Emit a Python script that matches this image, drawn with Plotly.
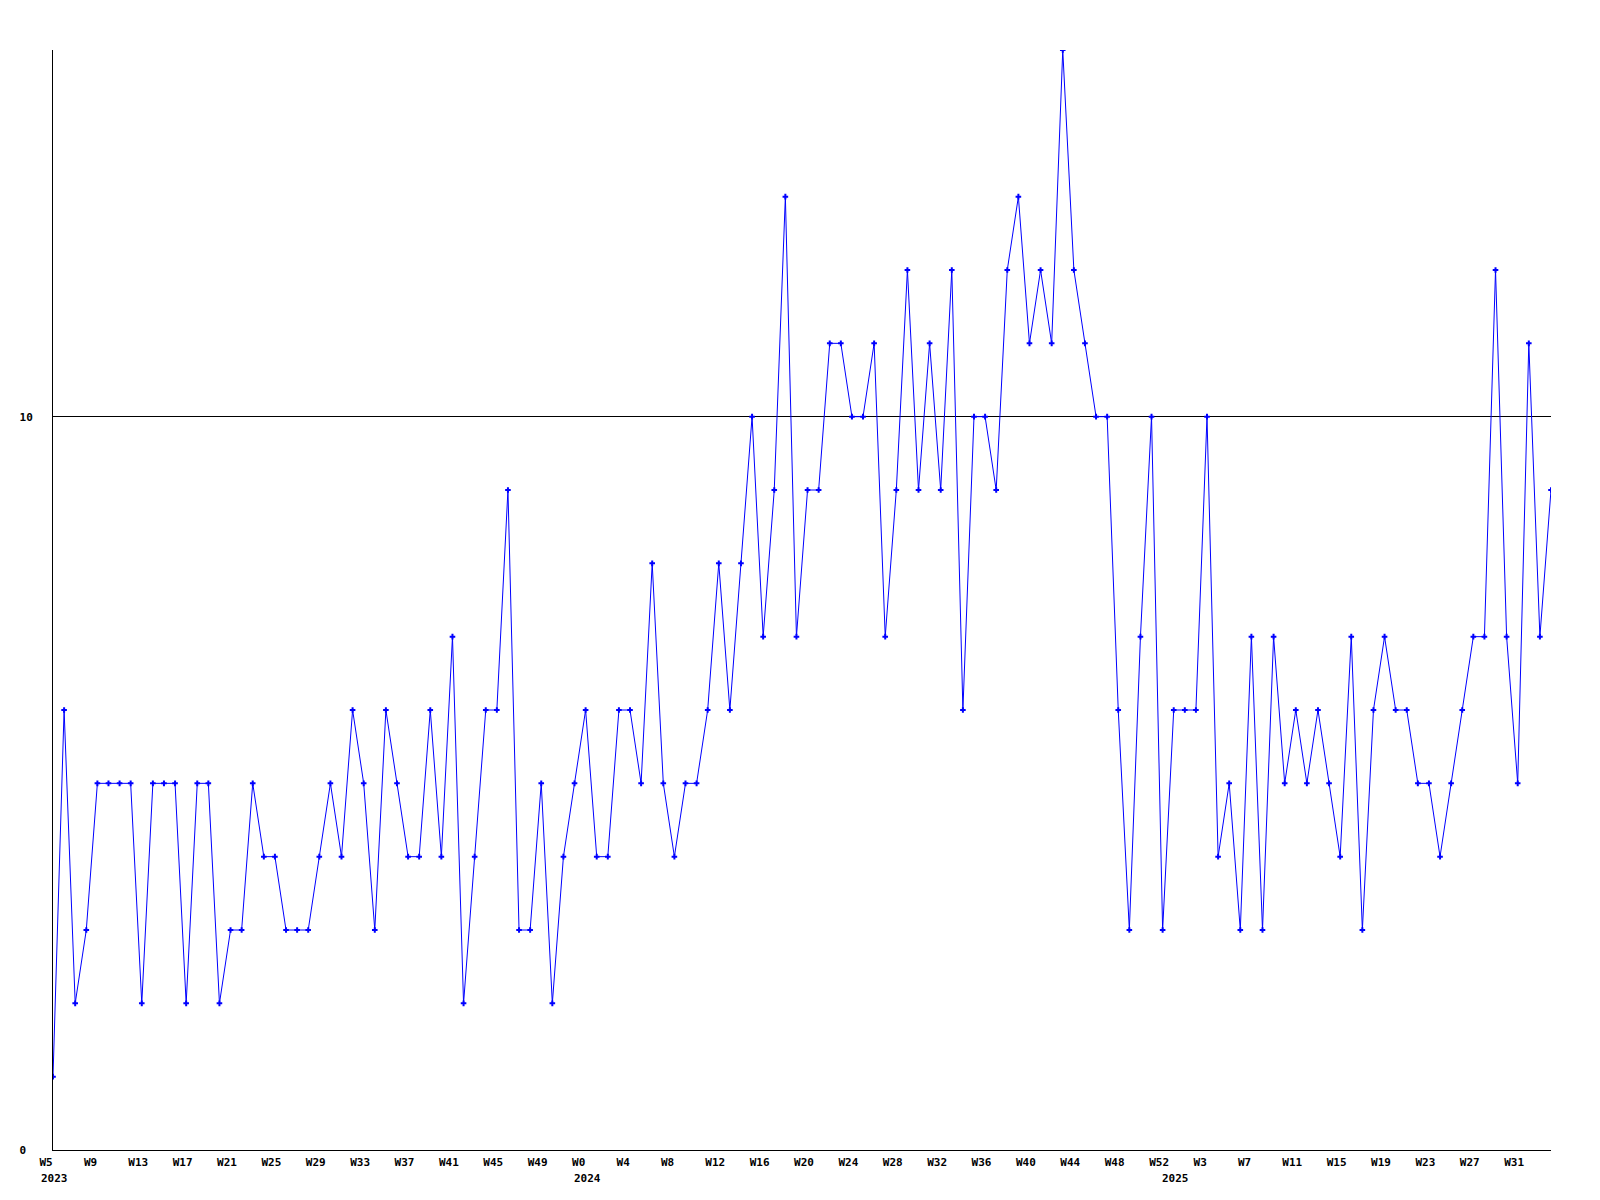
import plotly.graph_objects as go

# Weekly values (index 0 = W5 2023 ... index 135 = W34 2025)
values = [
    1, 6, 2, 3, 5, 5, 5, 5, 2, 5,
    5, 5, 2, 5, 5, 2, 3, 3, 5, 4,
    4, 3, 3, 3, 4, 5, 4, 6, 5, 3,
    6, 5, 4, 4, 6, 4, 7, 2, 4, 6,
    6, 9, 3, 3, 5, 2, 4, 5, 6, 4,
    4, 6, 6, 5, 8, 5, 4, 5, 5, 6,
    8, 6, 8, 10, 7, 9, 13, 7, 9, 9,
    11, 11, 10, 10, 11, 7, 9, 12, 9, 11,
    9, 12, 6, 10, 10, 9, 12, 13, 11, 12,
    11, 15, 12, 11, 10, 10, 6, 3, 7, 10,
    3, 6, 6, 6, 10, 4, 5, 3, 7, 3,
    7, 5, 6, 5, 6, 5, 4, 7, 3, 6,
    7, 6, 6, 5, 5, 4, 5, 6, 7, 7,
    12, 7, 5, 11, 7, 9,
]

# x tick labels (every 4th week)
week_ticks = [
    "W5", "W9", "W13", "W17", "W21", "W25", "W29", "W33", "W37", "W41", "W45", "W49",
    "W0", "W4", "W8", "W12", "W16", "W20", "W24", "W28", "W32", "W36", "W40", "W44", "W48", "W52",
    "W3", "W7", "W11", "W15", "W19", "W23", "W27", "W31",
]
tick_step = 4

# Year labels and the index of the first week of each year
years = ["2023", "2024", "2025"]
year_start_index = [0, 48, 101]

y_ticks = [0, 10]
y_ticktext = ["0\u00a0", "10"]

x = list(range(len(values)))
tickvals = [i * tick_step for i in range(len(week_ticks))]

BLUE = "#0000ff"
FONT = dict(family="DejaVu Sans Mono", size=11, color="black", weight="bold")

fig = go.Figure()
fig.add_trace(go.Scatter(
    x=x, y=values, mode="lines+markers",
    line=dict(color=BLUE, width=1),
    marker=dict(symbol="cross-thin", size=4, color=BLUE,
                line=dict(color=BLUE, width=2)),
    hoverinfo="x+y",
))

for yr, idx in zip(years, year_start_index):
    fig.add_annotation(
        x=idx, y=0, xref="x", yref="paper",
        text=yr, showarrow=False, xanchor="left", yanchor="top",
        xshift=-14, yshift=-20, font=FONT,
    )

fig.update_layout(
    width=1600, height=1200,
    margin=dict(l=40, r=57, t=42, b=58, pad=0),
    paper_bgcolor="white", plot_bgcolor="white",
    showlegend=False,
)
fig.update_xaxes(
    range=[0, len(values) - 1],
    tickmode="array", tickvals=tickvals, ticktext=week_ticks,
    showgrid=False, zeroline=False,
    showline=True, linecolor="black", linewidth=1,
    ticks="", tickfont=FONT, ticklabelstandoff=2,
    ticklabelposition="outside right", ticklabelshift=-14,
)
fig.update_yaxes(
    range=[0, 15],
    tickmode="array", tickvals=y_ticks, ticktext=y_ticktext,
    showgrid=True, gridcolor="black", gridwidth=1, zeroline=False,
    showline=True, linecolor="black", linewidth=1,
    ticks="", tickfont=FONT, ticklabelstandoff=17,
)

fig.write_html("out.html")
